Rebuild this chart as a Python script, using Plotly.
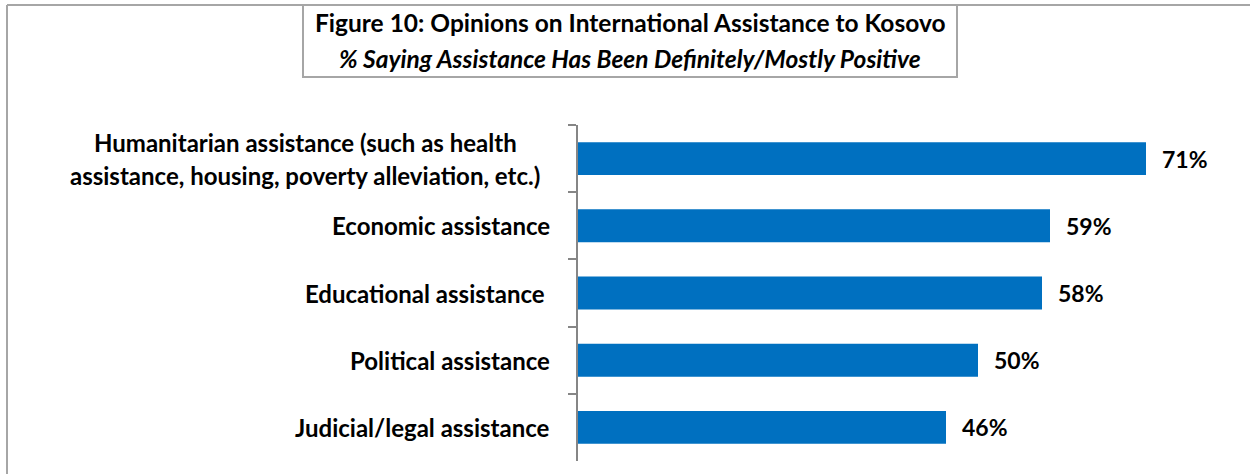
import plotly.graph_objects as go

categories = [
    "Humanitarian assistance (such as health<br>assistance, housing, poverty alleviation, etc.)",
    "Economic assistance",
    "Educational assistance ",
    "Political assistance",
    "Judicial/legal assistance",
]
values = [71, 59, 58, 50, 46]
value_labels = ["71%", "59%", "58%", "50%", "46%"]
title_line1 = "Figure 10: Opinions on International Assistance to Kosovo"
title_line2 = "% Saying Assistance Has Been Definitely/Mostly Positive"

W, H = 1250, 474
L, R, T, B = 578, 22, 125, 13
PW, PH = W - L - R, H - T - B
FONT = "Lato"
GREY = "#a6a6a6"
FS = 24

def px_x(px):
    return (px - L) / PW

def px_y(py):
    return 1 - (py - T) / PH

fig = go.Figure()
fig.add_trace(go.Bar(
    y=categories, x=values, orientation="h",
    marker=dict(color="#0070c0", line=dict(width=0)),
    width=0.49, hoverinfo="skip",
))

annotations = []
# value labels
for c, v, lab in zip(categories, values, value_labels):
    annotations.append(dict(x=v, y=c, xref="x", yref="y", text=f"<b>{lab}</b>",
                            showarrow=False, xanchor="left", xshift=14,
                            font=dict(family=FONT, size=FS - 1, color="black")))
# category labels (multi-line labels are centred line by line)
for c in categories:
    lines = c.split("<br>")
    n = len(lines)
    for i, ln in enumerate(lines):
        shift = ((n - 1) / 2 - i) * 33
        annotations.append(dict(x=px_x(552) if n == 1 else px_x(305), y=c,
                                xref="paper", yref="y",
                                text=f"<b>{ln}</b>", showarrow=False,
                                xanchor="right" if n == 1 else "center",
                                yshift=shift,
                                font=dict(family=FONT, size=FS, color="black")))

# title
annotations.append(dict(x=px_x(630), y=px_y(23), xref="paper", yref="paper",
                        text=f"<b>{title_line1}</b>", showarrow=False,
                        xanchor="center", yanchor="middle",
                        font=dict(family=FONT, size=FS + 0.5, color="black")))
annotations.append(dict(x=px_x(630), y=px_y(58), xref="paper", yref="paper",
                        text=f"<b><i>{title_line2}</i></b>", showarrow=False,
                        xanchor="center", yanchor="middle",
                        font=dict(family=FONT, size=FS + 0.5, color="black")))

shapes = [
    # outer frame (left and top edges visible in the crop)
    dict(type="line", xref="paper", yref="paper",
         x0=px_x(7), x1=px_x(7), y0=px_y(5), y1=px_y(480),
         line=dict(color=GREY, width=2), layer="above"),
    dict(type="line", xref="paper", yref="paper",
         x0=px_x(7), x1=px_x(1260), y0=px_y(5), y1=px_y(5),
         line=dict(color=GREY, width=2), layer="above"),
    # title box
    dict(type="rect", xref="paper", yref="paper",
         x0=px_x(303), x1=px_x(957), y0=px_y(5), y1=px_y(77),
         line=dict(color=GREY, width=2), fillcolor="rgba(0,0,0,0)", layer="above"),
]

fig.update_layout(
    width=W, height=H,
    margin=dict(l=L, r=R, t=T, b=B, pad=0),
    paper_bgcolor="white", plot_bgcolor="white",
    showlegend=False,
    annotations=annotations, shapes=shapes,
    xaxis=dict(range=[0, PW / 8.0], showgrid=False, zeroline=False,
               showticklabels=False, ticks="", showline=False, fixedrange=True),
    yaxis=dict(type="category", categoryorder="array", categoryarray=categories,
               autorange="reversed", showgrid=False, zeroline=False,
               showticklabels=False, showline=True, linecolor="#868686", linewidth=1.5,
               ticks="outside", ticklen=8, tickcolor="#868686", tickwidth=1.5,
               tickson="boundaries", fixedrange=True),
)

fig.write_html("out.html", config={"displayModeBar": False},
               post_script="document.body.style.margin='0';document.body.style.overflow='hidden';")
